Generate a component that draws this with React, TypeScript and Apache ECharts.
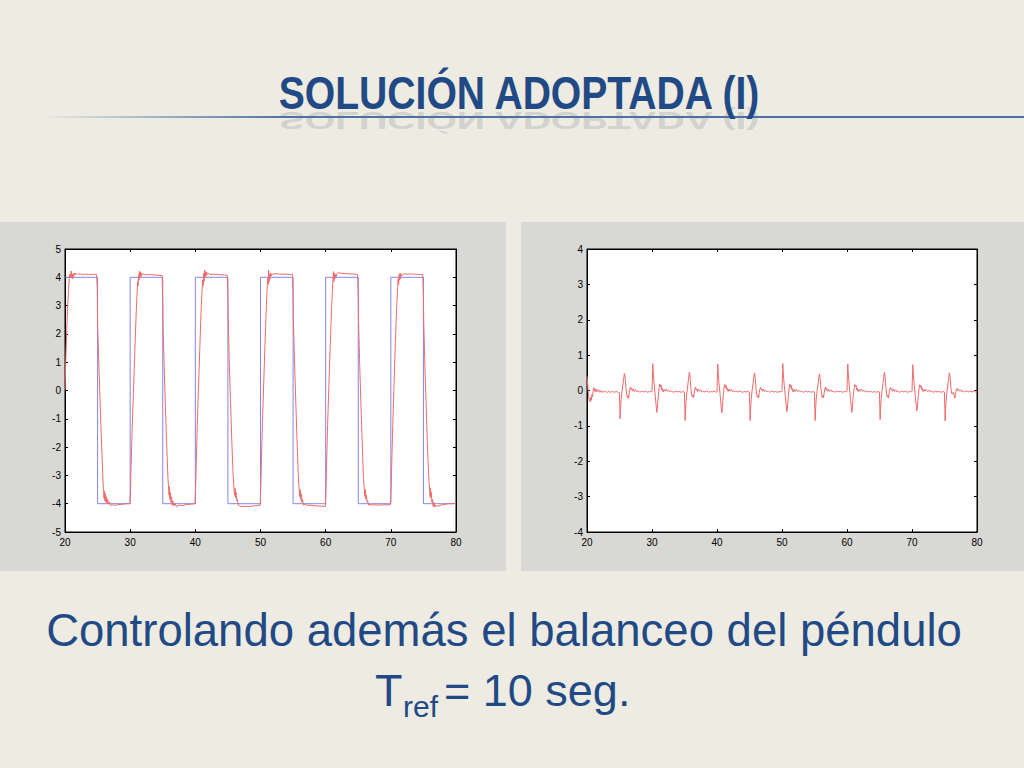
import React, { useEffect, useRef } from 'react';
import * as echarts from 'echarts';

// reference square wave (blue), left plot
const REF_TIME = [20, 25, 25, 30, 30, 35, 35, 40, 40, 45, 45, 50, 50, 55, 55, 60, 60, 65, 65, 70, 70, 75, 75, 80];
const REF_VALUE = [4, 4, -4, -4, 4, 4, -4, -4, 4, 4, -4, -4, 4, 4, -4, -4, 4, 4, -4, -4, 4, 4, -4, -4];

// measured cart position (red), left plot: [time, value]
const CART_POSITION: [number, number][] = [
  [20.0, 0.0], [20.1, 0.9], [20.25, 2.0], [20.4, 2.9], [20.55, 3.6], [20.65, 3.95], [20.75, 4.1], [20.82, 3.98],
  [20.9, 4.15], [20.95, 4.22], [21.02, 4.0], [21.1, 4.12], [21.18, 3.95], [21.25, 4.1], [21.32, 4.02], [21.4, 4.15],
  [21.5, 4.08], [21.6, 4.14], [21.75, 4.1], [21.9, 4.13], [22.1, 4.11], [22.4, 4.12], [22.8, 4.1], [23.2, 4.11],
  [23.6, 4.1], [24.0, 4.1], [24.4, 4.11], [24.85, 4.1],
  [24.95, 3.6], [25.0, 2.3], [25.1, 1.6], [25.3, 0.2], [25.5, -1.2], [25.7, -2.4], [25.85, -3.3], [25.92, -3.5],
  [25.98, -3.8], [26.05, -3.55], [26.12, -3.9], [26.2, -3.65], [26.28, -3.95], [26.35, -3.75], [26.45, -4.0],
  [26.55, -3.85], [26.7, -4.02], [26.85, -3.95], [27.0, -4.06], [27.3, -4.04], [27.7, -4.06], [28.2, -4.03],
  [28.8, -4.02], [29.4, -4.0], [29.95, -4.0],
  [30.05, -3.5], [30.15, -2.6], [30.3, -1.4], [30.5, -0.1], [30.7, 1.3], [30.9, 2.6], [31.05, 3.4], [31.15, 3.85],
  [31.22, 3.7], [31.3, 4.1], [31.36, 3.9], [31.42, 4.22], [31.5, 3.98], [31.58, 4.18], [31.66, 4.02], [31.75, 4.15],
  [31.85, 4.08], [32.0, 4.12], [32.3, 4.09], [32.8, 4.1], [33.3, 4.09], [33.8, 4.08], [34.4, 4.07], [34.9, 4.06],
  [35.0, 3.2], [35.05, 2.2], [35.2, 1.0], [35.4, -0.5], [35.6, -1.9], [35.8, -3.1], [35.9, -3.45], [35.96, -3.7],
  [36.02, -3.4], [36.1, -3.85], [36.18, -3.6], [36.25, -3.95], [36.35, -3.75], [36.45, -4.05], [36.55, -3.9],
  [36.7, -4.08], [36.9, -4.0], [37.1, -4.1], [37.5, -4.05], [38.0, -4.07], [38.6, -4.03], [39.2, -4.02], [39.95, -4.0],
  [40.05, -3.4], [40.15, -2.5], [40.3, -1.2], [40.5, 0.2], [40.7, 1.6], [40.9, 2.9], [41.05, 3.6], [41.12, 3.9],
  [41.2, 3.7], [41.28, 4.15], [41.35, 3.85], [41.42, 4.25], [41.5, 4.0], [41.58, 4.2], [41.66, 4.05], [41.75, 4.18],
  [41.85, 4.1], [42.0, 4.14], [42.3, 4.1], [42.8, 4.11], [43.3, 4.1], [43.9, 4.09], [44.5, 4.08], [44.9, 4.07],
  [45.0, 3.3], [45.05, 2.4], [45.2, 1.1], [45.4, -0.4], [45.6, -1.8], [45.8, -3.0], [45.95, -3.5], [46.02, -3.7],
  [46.1, -3.45], [46.18, -3.8], [46.26, -3.6], [46.35, -3.9], [46.45, -3.85], [46.6, -4.05], [46.8, -4.08],
  [47.1, -4.1], [47.6, -4.09], [48.2, -4.1], [48.8, -4.08], [49.4, -4.07], [49.95, -4.05],
  [50.05, -3.4], [50.15, -2.4], [50.3, -1.1], [50.5, 0.3], [50.7, 1.7], [50.9, 3.0], [51.05, 3.7], [51.1, 3.95],
  [51.18, 3.75], [51.25, 4.25], [51.32, 3.85], [51.4, 4.1], [51.48, 3.95], [51.56, 4.15], [51.65, 4.05], [51.75, 4.12],
  [51.9, 4.1], [52.2, 4.13], [52.7, 4.12], [53.3, 4.11], [53.9, 4.11], [54.5, 4.1], [54.9, 4.1],
  [55.0, 3.4], [55.05, 2.5], [55.2, 1.2], [55.4, -0.3], [55.6, -1.7], [55.8, -3.0], [55.95, -3.55], [56.02, -3.75],
  [56.1, -3.5], [56.18, -3.85], [56.26, -3.65], [56.35, -3.95], [56.45, -3.85], [56.6, -4.05], [56.8, -4.02],
  [57.1, -4.06], [57.6, -4.05], [58.2, -4.07], [58.8, -4.08], [59.4, -4.09], [59.95, -4.1],
  [60.05, -3.5], [60.15, -2.5], [60.3, -1.2], [60.5, 0.2], [60.7, 1.6], [60.9, 2.9], [61.05, 3.6], [61.12, 3.9],
  [61.2, 4.2], [61.27, 3.85], [61.35, 4.15], [61.42, 3.95], [61.5, 4.1], [61.6, 4.02], [61.7, 4.12], [61.85, 4.15],
  [62.1, 4.16], [62.5, 4.14], [63.0, 4.13], [63.6, 4.12], [64.2, 4.12], [64.9, 4.1],
  [65.0, 3.3], [65.05, 2.4], [65.2, 1.1], [65.4, -0.4], [65.6, -1.8], [65.8, -3.1], [65.95, -3.55], [66.02, -3.75],
  [66.1, -3.5], [66.18, -3.85], [66.26, -3.7], [66.35, -3.95], [66.45, -3.9], [66.6, -4.05], [66.8, -4.02],
  [67.1, -4.05], [67.6, -4.04], [68.2, -4.05], [68.8, -4.04], [69.4, -4.04], [69.95, -4.03],
  [70.05, -3.4], [70.15, -2.5], [70.3, -1.2], [70.5, 0.3], [70.7, 1.7], [70.9, 3.0], [71.05, 3.65], [71.12, 3.95],
  [71.2, 3.75], [71.28, 4.1], [71.35, 3.9], [71.42, 4.15], [71.5, 3.95], [71.6, 4.1], [71.7, 4.05], [71.85, 4.1],
  [72.1, 4.12], [72.5, 4.11], [73.0, 4.12], [73.6, 4.11], [74.2, 4.1], [74.9, 4.1],
  [75.0, 3.3], [75.05, 2.4], [75.2, 1.1], [75.4, -0.4], [75.6, -1.8], [75.8, -3.0], [75.95, -3.5], [76.02, -3.75],
  [76.08, -3.45], [76.15, -3.8], [76.22, -3.6], [76.3, -3.95], [76.4, -3.85], [76.5, -4.1], [76.6, -3.95],
  [76.75, -4.12], [76.9, -4.05], [77.1, -4.1], [77.4, -4.07], [77.8, -4.04], [78.3, -4.02], [78.9, -4.0],
  [79.5, -4.0], [80.0, -3.98],
];

// pendulum angle (red), right plot: [time, value]
const PENDULUM_ANGLE: [number, number][] = [
  [20.0, 0.4], [20.08, 0.25], [20.15, 0.05], [20.25, -0.15], [20.35, -0.25], [20.45, -0.32], [20.55, -0.2],
  [20.65, -0.28], [20.75, -0.12], [20.85, -0.18], [20.95, 0.0], [21.05, 0.08], [21.15, -0.02], [21.25, 0.05],
  [21.35, -0.04], [21.5, 0.03], [21.65, -0.03], [21.8, 0.02], [21.95, -0.05], [22.1, 0.0], [22.3, -0.06],
  [22.5, -0.01], [22.7, -0.05], [22.9, -0.02], [23.1, -0.06], [23.3, -0.02], [23.6, -0.05], [23.9, -0.03],
  [24.2, -0.05], [24.5, -0.03], [24.8, -0.05], [24.98, -0.06],
  [25.05, -0.45], [25.1, -0.8], [25.17, -0.5], [25.25, -0.25], [25.4, 0.0], [25.55, 0.2], [25.65, 0.35],
  [25.75, 0.48], [25.82, 0.42], [25.9, 0.3], [26.0, 0.05], [26.1, -0.1], [26.2, -0.2], [26.3, -0.15],
  [26.4, -0.22], [26.5, -0.05], [26.6, 0.05], [26.7, 0.1], [26.8, 0.02], [26.9, 0.06], [27.0, -0.02],
  [27.15, 0.04], [27.3, -0.03], [27.5, 0.02], [27.7, -0.04], [27.9, -0.01], [28.1, -0.05], [28.4, -0.02],
  [28.7, -0.04], [29.0, -0.02], [29.3, -0.05], [29.6, -0.03], [29.9, -0.04], [30.0, -0.02],
  [30.05, 0.3], [30.12, 0.76], [30.18, 0.55], [30.25, 0.35], [30.35, 0.15], [30.45, -0.05], [30.55, -0.25],
  [30.65, -0.45], [30.75, -0.62], [30.82, -0.5], [30.9, -0.3], [31.0, -0.1], [31.1, 0.08], [31.2, 0.18],
  [31.3, 0.1], [31.4, 0.15], [31.5, 0.02], [31.6, 0.06], [31.7, -0.04], [31.85, 0.03], [32.0, -0.02],
  [32.2, 0.04], [32.4, -0.03], [32.6, 0.01], [32.8, -0.04], [33.0, -0.02], [33.3, -0.05], [33.6, -0.02],
  [33.9, -0.04], [34.2, -0.03], [34.5, -0.05], [34.8, -0.03], [34.98, -0.04],
  [35.05, -0.5], [35.1, -0.85], [35.17, -0.55], [35.25, -0.28], [35.4, -0.02], [35.55, 0.22], [35.65, 0.38],
  [35.75, 0.52], [35.82, 0.45], [35.9, 0.28], [36.0, 0.04], [36.1, -0.12], [36.2, -0.18], [36.3, -0.12],
  [36.4, -0.2], [36.5, -0.04], [36.6, 0.06], [36.7, 0.1], [36.8, 0.01], [36.9, 0.05], [37.0, -0.03],
  [37.15, 0.03], [37.3, -0.02], [37.5, 0.02], [37.7, -0.05], [37.9, -0.02], [38.1, -0.04], [38.4, -0.01],
  [38.7, -0.05], [39.0, -0.03], [39.3, -0.04], [39.6, -0.02], [39.9, -0.05], [40.0, -0.02],
  [40.05, 0.32], [40.12, 0.75], [40.18, 0.52], [40.25, 0.33], [40.35, 0.12], [40.45, -0.06], [40.55, -0.27],
  [40.65, -0.46], [40.75, -0.63], [40.82, -0.48], [40.9, -0.28], [41.0, -0.08], [41.1, 0.1], [41.2, 0.17],
  [41.3, 0.08], [41.4, 0.14], [41.5, 0.03], [41.6, 0.07], [41.7, -0.03], [41.85, 0.04], [42.0, -0.02],
  [42.2, 0.03], [42.4, -0.04], [42.6, 0.0], [42.8, -0.03], [43.0, -0.02], [43.3, -0.04], [43.6, -0.02],
  [43.9, -0.05], [44.2, -0.03], [44.5, -0.04], [44.8, -0.03], [44.98, -0.05],
  [45.05, -0.48], [45.1, -0.85], [45.17, -0.52], [45.25, -0.26], [45.4, 0.0], [45.55, 0.2], [45.65, 0.36],
  [45.75, 0.5], [45.82, 0.44], [45.9, 0.3], [46.0, 0.06], [46.1, -0.1], [46.2, -0.19], [46.3, -0.14],
  [46.4, -0.21], [46.5, -0.06], [46.6, 0.04], [46.7, 0.09], [46.8, 0.02], [46.9, 0.05], [47.0, -0.02],
  [47.15, 0.04], [47.3, -0.03], [47.5, 0.01], [47.7, -0.04], [47.9, -0.02], [48.1, -0.05], [48.4, -0.02],
  [48.7, -0.04], [49.0, -0.03], [49.3, -0.05], [49.6, -0.03], [49.9, -0.04], [50.0, -0.02],
  [50.05, 0.3], [50.12, 0.76], [50.18, 0.54], [50.25, 0.34], [50.35, 0.14], [50.45, -0.05], [50.55, -0.24],
  [50.65, -0.44], [50.75, -0.6], [50.82, -0.5], [50.9, -0.3], [51.0, -0.1], [51.1, 0.07], [51.2, 0.18],
  [51.3, 0.09], [51.4, 0.15], [51.5, 0.02], [51.6, 0.06], [51.7, -0.04], [51.85, 0.03], [52.0, -0.03],
  [52.2, 0.03], [52.4, -0.03], [52.6, 0.01], [52.8, -0.04], [53.0, -0.02], [53.3, -0.05], [53.6, -0.02],
  [53.9, -0.04], [54.2, -0.03], [54.5, -0.05], [54.8, -0.03], [54.98, -0.04],
  [55.05, -0.5], [55.1, -0.85], [55.17, -0.53], [55.25, -0.27], [55.4, -0.01], [55.55, 0.19], [55.65, 0.33],
  [55.75, 0.47], [55.82, 0.41], [55.9, 0.28], [56.0, 0.05], [56.1, -0.11], [56.2, -0.2], [56.3, -0.13],
  [56.4, -0.2], [56.5, -0.05], [56.6, 0.05], [56.7, 0.1], [56.8, 0.01], [56.9, 0.06], [57.0, -0.02],
  [57.15, 0.03], [57.3, -0.03], [57.5, 0.02], [57.7, -0.04], [57.9, -0.01], [58.1, -0.05], [58.4, -0.02],
  [58.7, -0.04], [59.0, -0.02], [59.3, -0.05], [59.6, -0.03], [59.9, -0.04], [60.0, -0.02],
  [60.05, 0.31], [60.12, 0.75], [60.18, 0.53], [60.25, 0.34], [60.35, 0.13], [60.45, -0.06], [60.55, -0.26],
  [60.65, -0.46], [60.75, -0.62], [60.82, -0.49], [60.9, -0.29], [61.0, -0.09], [61.1, 0.08], [61.2, 0.17],
  [61.3, 0.1], [61.4, 0.14], [61.5, 0.02], [61.6, 0.06], [61.7, -0.03], [61.85, 0.03], [62.0, -0.02],
  [62.2, 0.04], [62.4, -0.03], [62.6, 0.01], [62.8, -0.04], [63.0, -0.02], [63.3, -0.04], [63.6, -0.02],
  [63.9, -0.05], [64.2, -0.03], [64.5, -0.05], [64.8, -0.03], [64.98, -0.04],
  [65.05, -0.47], [65.1, -0.82], [65.17, -0.5], [65.25, -0.25], [65.4, 0.01], [65.55, 0.22], [65.65, 0.38],
  [65.75, 0.52], [65.82, 0.45], [65.9, 0.3], [66.0, 0.05], [66.1, -0.1], [66.2, -0.19], [66.3, -0.14],
  [66.4, -0.21], [66.5, -0.05], [66.6, 0.05], [66.7, 0.09], [66.8, 0.02], [66.9, 0.05], [67.0, -0.02],
  [67.15, 0.04], [67.3, -0.03], [67.5, 0.02], [67.7, -0.04], [67.9, -0.02], [68.1, -0.05], [68.4, -0.02],
  [68.7, -0.04], [69.0, -0.02], [69.3, -0.05], [69.6, -0.03], [69.9, -0.04], [70.0, -0.02],
  [70.05, 0.29], [70.12, 0.73], [70.18, 0.52], [70.25, 0.33], [70.35, 0.13], [70.45, -0.05], [70.55, -0.23],
  [70.65, -0.42], [70.75, -0.58], [70.82, -0.47], [70.9, -0.28], [71.0, -0.09], [71.1, 0.08], [71.2, 0.16],
  [71.3, 0.09], [71.4, 0.14], [71.5, 0.02], [71.6, 0.06], [71.7, -0.03], [71.85, 0.03], [72.0, -0.02],
  [72.2, 0.03], [72.4, -0.03], [72.6, 0.01], [72.8, -0.04], [73.0, -0.02], [73.3, -0.05], [73.6, -0.02],
  [73.9, -0.04], [74.2, -0.03], [74.5, -0.05], [74.8, -0.03], [74.98, -0.04],
  [75.05, -0.5], [75.1, -0.86], [75.17, -0.54], [75.25, -0.27], [75.4, 0.0], [75.55, 0.2], [75.65, 0.36],
  [75.75, 0.5], [75.82, 0.43], [75.9, 0.29], [76.0, 0.05], [76.1, -0.08], [76.2, -0.1], [76.35, -0.05],
  [76.5, -0.15], [76.6, -0.22], [76.7, -0.1], [76.8, 0.02], [76.9, 0.06], [77.0, 0.0], [77.15, 0.04],
  [77.3, -0.02], [77.5, 0.02], [77.7, -0.04], [77.9, -0.01], [78.1, -0.04], [78.4, -0.01], [78.7, -0.04],
  [79.0, -0.02], [79.3, -0.04], [79.6, -0.01], [79.8, -0.04], [80.0, -0.02],
];

const TIME_MIN = 20;
const TIME_MAX = 80;
const TIME_STEP = 10;
const LEFT_Y_MIN = -5;
const LEFT_Y_MAX = 5;
const RIGHT_Y_MIN = -4;
const RIGHT_Y_MAX = 4;

const TITLE = 'SOLUCIÓN ADOPTADA (I)';
const CAPTION = 'Controlando además el balanceo del péndulo';

const SLIDE_BG = '#eeebe2';
const PANEL_BG = '#d8d8d4';
const TEXT_BLUE = '#1f4a85';
const RED = '#f06a6a';
const BLUE = '#8585ee';
const FONT = '"Liberation Sans", Arial, Helvetica, sans-serif';

function axisCommon(min: number, max: number, interval: number, showLabel: boolean) {
  return {
    type: 'value' as const,
    min,
    max,
    interval,
    axisLine: { show: true, onZero: false, lineStyle: { color: '#000', width: 1 } },
    axisTick: { show: true, inside: true, length: 3, lineStyle: { color: '#000' } },
    splitLine: { show: false },
    axisLabel: { show: showLabel, color: '#000', fontSize: 10, fontFamily: FONT },
  };
}

export default function App() {
  const ref = useRef<HTMLDivElement>(null);

  useEffect(() => {
    if (!ref.current) return;
    const chart = echarts.init(ref.current, undefined, { renderer: 'svg' });

    const gridBase = {
      show: true,
      backgroundColor: '#fff',
      borderColor: '#000',
      borderWidth: 1,
      containLabel: false,
    };

    const option: echarts.EChartsOption = {
      animation: false,
      backgroundColor: SLIDE_BG,
      grid: [
        { ...gridBase, left: 65, top: 249, width: 391, height: 283 },
        { ...gridBase, left: 587, top: 249, width: 390, height: 283 },
      ],
      xAxis: [
        { ...axisCommon(TIME_MIN, TIME_MAX, TIME_STEP, true), gridIndex: 0, position: 'bottom', axisLabel: { color: '#000', fontSize: 10, fontFamily: FONT, margin: 5 } },
        { ...axisCommon(TIME_MIN, TIME_MAX, TIME_STEP, false), gridIndex: 0, position: 'top' },
        { ...axisCommon(TIME_MIN, TIME_MAX, TIME_STEP, true), gridIndex: 1, position: 'bottom', axisLabel: { color: '#000', fontSize: 10, fontFamily: FONT, margin: 5 } },
        { ...axisCommon(TIME_MIN, TIME_MAX, TIME_STEP, false), gridIndex: 1, position: 'top' },
      ],
      yAxis: [
        { ...axisCommon(LEFT_Y_MIN, LEFT_Y_MAX, 1, true), gridIndex: 0, position: 'left', axisLabel: { color: '#000', fontSize: 10, fontFamily: FONT, margin: 4 } },
        { ...axisCommon(LEFT_Y_MIN, LEFT_Y_MAX, 1, false), gridIndex: 0, position: 'right' },
        { ...axisCommon(RIGHT_Y_MIN, RIGHT_Y_MAX, 1, true), gridIndex: 1, position: 'left', axisLabel: { color: '#000', fontSize: 10, fontFamily: FONT, margin: 4 } },
        { ...axisCommon(RIGHT_Y_MIN, RIGHT_Y_MAX, 1, false), gridIndex: 1, position: 'right' },
      ],
      series: [
        {
          name: 'Referencia',
          type: 'line',
          xAxisIndex: 0,
          yAxisIndex: 0,
          data: REF_TIME.map((t, i) => [t, REF_VALUE[i]]),
          showSymbol: false,
          lineStyle: { color: BLUE, width: 1 },
          z: 3,
        },
        {
          name: 'Posición',
          type: 'line',
          xAxisIndex: 0,
          yAxisIndex: 0,
          data: CART_POSITION,
          showSymbol: false,
          lineStyle: { color: RED, width: 1 },
          z: 4,
        },
        {
          name: 'Ángulo',
          type: 'line',
          xAxisIndex: 2,
          yAxisIndex: 2,
          data: PENDULUM_ANGLE,
          showSymbol: false,
          lineStyle: { color: RED, width: 1 },
          z: 4,
        },
      ],
      graphic: {
        elements: [
          // grey panels behind the plots
          { type: 'rect', z: -100, shape: { x: 0, y: 222, width: 506, height: 349 }, style: { fill: PANEL_BG }, silent: true },
          { type: 'rect', z: -100, shape: { x: 521, y: 222, width: 503, height: 349 }, style: { fill: PANEL_BG }, silent: true },
          // title reflection
          {
            type: 'text',
            x: 519,
            y: 112,
            scaleX: 0.85,
            scaleY: -0.5,
            style: {
              text: TITLE,
              x: 0,
              y: -16,
              align: 'center',
              verticalAlign: 'middle',
              font: `bold 46px ${FONT}`,
              fill: 'rgba(140,148,160,0.3)',
            },
            silent: true,
          },
          // title rule
          {
            type: 'rect',
            shape: { x: 40, y: 116, width: 984, height: 2 },
            style: {
              fill: new echarts.graphic.LinearGradient(0, 0, 1, 0, [
                { offset: 0, color: 'rgba(74,114,166,0)' },
                { offset: 0.25, color: 'rgba(74,114,166,1)' },
                { offset: 1, color: 'rgba(74,114,166,1)' },
              ]),
            },
            silent: true,
          },
          // title
          {
            type: 'text',
            x: 519,
            y: 93,
            scaleX: 0.85,
            style: {
              text: TITLE,
              align: 'center',
              verticalAlign: 'middle',
              font: `bold 46px ${FONT}`,
              fill: TEXT_BLUE,
            },
            silent: true,
          },
          // caption
          {
            type: 'text',
            x: 504,
            y: 630,
            style: {
              text: CAPTION,
              align: 'center',
              verticalAlign: 'middle',
              font: `45.5px ${FONT}`,
              fill: TEXT_BLUE,
            },
            silent: true,
          },
          {
            type: 'text',
            x: 375,
            y: 690,
            style: { text: 'T', align: 'left', verticalAlign: 'middle', font: `45px ${FONT}`, fill: TEXT_BLUE },
            silent: true,
          },
          {
            type: 'text',
            x: 403,
            y: 706,
            style: { text: 'ref', align: 'left', verticalAlign: 'middle', font: `30px ${FONT}`, fill: TEXT_BLUE },
            silent: true,
          },
          {
            type: 'text',
            x: 444,
            y: 690,
            style: { text: '= 10 seg.', align: 'left', verticalAlign: 'middle', font: `45px ${FONT}`, fill: TEXT_BLUE },
            silent: true,
          },
        ],
      },
    };

    chart.setOption(option);
    return () => chart.dispose();
  }, []);

  return (
    <div
      ref={ref}
      style={{ position: 'fixed', left: 0, top: 0, width: 1024, height: 768 }}
    />
  );
}
